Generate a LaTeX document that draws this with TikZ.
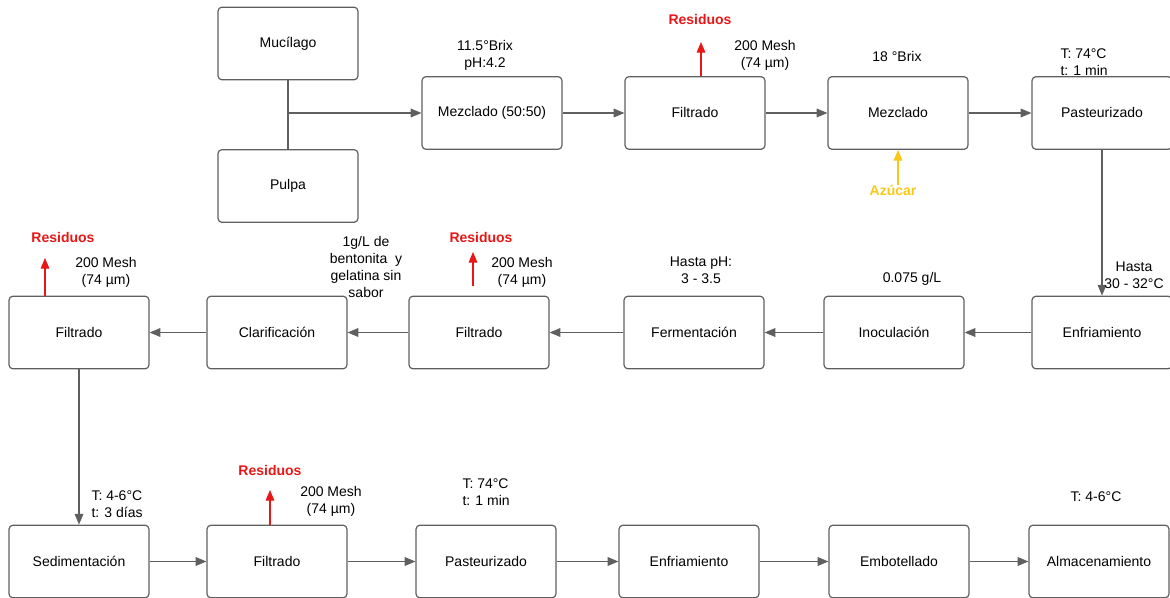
\documentclass[tikz,border=0pt]{standalone}
\usepackage{fontspec}
\setmainfont{Liberation Sans}
\usetikzlibrary{arrows.meta}
\definecolor{linegray}{RGB}{95,95,95}
\definecolor{resred}{RGB}{232,22,22}
\definecolor{azugold}{RGB}{250,200,20}
\tikzset{every picture/.style={line width=0.75pt}}
\tikzset{
  proc/.style={draw=linegray, line width=0.9pt, rounded corners=3pt, minimum width=105pt, minimum height=54.5pt, inner sep=0pt, font=\fontsize{10.5}{12}\selectfont},
  flow/.style={draw=linegray, line width=0.8pt, -{Triangle[length=8pt,width=6.5pt]}},
  link/.style={draw=linegray, line width=0.8pt},
  outarrow/.style={line width=0.8pt, -{Triangle[length=8pt,width=6.5pt]}},
  note/.style={align=center, inner sep=0.75pt, font=\fontsize{10.5}{12.75}\selectfont},
  redlabel/.style={inner sep=0.75pt, text=resred, font=\fontsize{10.5}{12}\selectfont\bfseries},
  goldlabel/.style={inner sep=0.75pt, text=azugold, font=\fontsize{10.5}{12}\selectfont\bfseries}
}

\begin{document}
\begin{tikzpicture}[x=0.75pt,y=0.75pt,yscale=-1,xscale=1]
        \useasboundingbox (0,0) rectangle (1170,598);

        %Process boxes, first row
        \node [proc] (muc) at (288,43.5) {Mucílago};
        \node [proc] (pul) at (288,186) {Pulpa};
        \node [proc] (mez1) at (492,113) {Mezclado (50:50)};
        \node [proc] (fil1) at (695,113) {Filtrado};
        \node [proc] (mez2) at (898,113) {Mezclado};
        \node [proc] (pas1) at (1102,113) {Pasteurizado};

        %Process boxes, second row
        \node [proc] (fil4) at (79,332.5) {Filtrado};
        \node [proc] (cla) at (277,332.5) {Clarificación};
        \node [proc] (fil2) at (479,332.5) {Filtrado};
        \node [proc] (fer) at (694,332.5) {Fermentación};
        \node [proc] (ino) at (894,332.5) {Inoculación};
        \node [proc] (enf1) at (1102,332.5) {Enfriamiento};

        %Process boxes, third row
        \node [proc] (sed) at (79,561.5) {Sedimentación};
        \node [proc] (fil3) at (277,561.5) {Filtrado};
        \node [proc] (pas2) at (486,561.5) {Pasteurizado};
        \node [proc] (enf2) at (689,561.5) {Enfriamiento};
        \node [proc] (emb) at (899,561.5) {Embotellado};
        \node [proc] (alm) at (1099,561.5) {Almacenamiento};

        %Connectors
        \coordinate (join) at (288,113);
        \draw [link] (muc.south) -- (pul.north);
        \draw [flow] (join) -- (mez1.west);
        \draw [flow] (mez1) -- (fil1);
        \draw [flow] (fil1) -- (mez2);
        \draw [flow] (mez2) -- (pas1);
        \draw [flow] (pas1.south) -- (enf1.north);
        \draw [flow] (enf1) -- (ino);
        \draw [flow] (ino) -- (fer);
        \draw [flow] (fer) -- (fil2);
        \draw [flow] (fil2) -- (cla);
        \draw [flow] (cla) -- (fil4);
        \draw [flow] (fil4.south) -- (sed.north);
        \draw [flow] (sed) -- (fil3);
        \draw [flow] (fil3) -- (pas2);
        \draw [flow] (pas2) -- (enf2);
        \draw [flow] (enf2) -- (emb);
        \draw [flow] (emb) -- (alm);

        %Residue and sugar streams
        \coordinate (res1) at (701,42);
        \draw [outarrow, resred] (fil1.north -| res1) -- (res1);
        \coordinate (res2a) at (473,286);
        \coordinate (res2b) at (473,252);
        \draw [outarrow, resred] (res2a) -- (res2b);
        \coordinate (res4) at (45,258);
        \draw [outarrow, resred] (fil4.north -| res4) -- (res4);
        \coordinate (res3) at (270,490);
        \draw [outarrow, resred] (fil3.north -| res3) -- (res3);
        \coordinate (azu) at (898,185);
        \draw [outarrow, azugold] (azu) -- (mez2.south);

        % Text Node
        \node [redlabel] (lres1) at (700,20) {Residuos};
        \node [redlabel] (lres2) at (481,237) {Residuos};
        \node [redlabel] (lres4) at (63,237) {Residuos};
        \node [redlabel] (lres3) at (270,470) {Residuos};
        \node [goldlabel] (lazu) at (893,190) {Azúcar};

        % Text Node
        \node [note] (t1) at (485,55.5) {11.5°Brix\\pH:4.2};
        \node [note] (t2) at (765,55.5) {200 Mesh\\(74 µm)};
        \node [note] (t3) at (897,56) {18 °Brix};
        \node [note, align=left, anchor=west] (t4) at (1059,62) {T: 74°C\\t: 1 min};
        \node [note] (t5) at (1134,275.5) {Hasta\\30 - 32°C};
        \node [note] (t6) at (912,279) {0.075 g/L};
        \node [note] (t7) at (701,270) {Hasta pH:\\3 - 3.5};
        \node [note] (t8) at (522,272.5) {200 Mesh\\(74 µm)};
        \node [note] (t9) at (366,266.5) {1g/L de\\bentonita\ \ y\\gelatina sin\\sabor};
        \node [note] (t10) at (106,272.5) {200 Mesh\\(74 µm)};
        \node [note, align=left, anchor=west] (t11) at (90,504.5) {T: 4-6°C\\t: 3 días};
        \node [note] (t12) at (331,501.5) {200 Mesh\\(74 µm)};
        \node [note, align=left, anchor=west] (t13) at (461,492) {T: 74°C\\t: 1 min};
        \node [note] (t14) at (1096,497) {T: 4-6°C};

    \end{tikzpicture}
\end{document}
